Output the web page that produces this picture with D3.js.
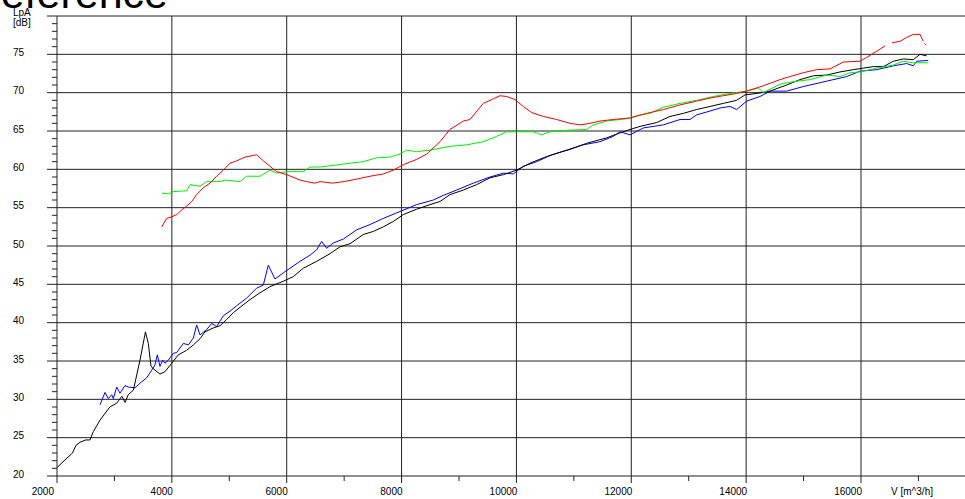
<!DOCTYPE html>
<html>
<head>
<meta charset="utf-8">
<script src="https://cdn.jsdelivr.net/npm/d3@7"></script>
<style>
  html, body { margin: 0; padding: 0; background: #fff; overflow: hidden; }
  svg { display: block; }
</style>
</head>
<body>
<svg id="chart" width="965" height="499"></svg>
<script>
// axis ticks
const xTicks = [2000, 4000, 6000, 8000, 10000, 12000, 14000, 16000];
const yTicks = [20, 25, 30, 35, 40, 45, 50, 55, 60, 65, 70, 75];

// [V m^3/h, LpA dB]
const blackSeries = [
  [2000, 21.1], [2140, 22.1], [2270, 23.0], [2330, 24.0], [2400, 24.4], [2500, 24.7],
  [2575, 24.7], [2633, 25.8], [2750, 27.3], [2920, 29.0], [3040, 29.5], [3130, 30.4],
  [3185, 29.6], [3240, 30.6], [3330, 31.2], [3445, 35.1], [3540, 38.8], [3590, 37.3],
  [3637, 34.3], [3706, 33.8], [3793, 33.3], [3880, 33.6], [3997, 34.7], [4112, 35.8],
  [4258, 36.4], [4374, 37.1], [4490, 37.9], [4577, 38.8], [4720, 39.3], [4838, 39.6],
  [4954, 40.4], [5070, 41.3], [5187, 42.0], [5360, 43.0], [5535, 43.9], [5709, 44.7],
  [5940, 45.4], [6114, 46.0], [6289, 47.1], [6521, 48.0], [6754, 49.0], [6928, 49.9],
  [7102, 50.3], [7334, 51.5], [7508, 51.9], [7682, 52.5], [7856, 53.2], [8030, 54.1],
  [8263, 54.8], [8495, 55.4], [8669, 55.8], [8843, 56.7], [9075, 57.3], [9307, 58.0],
  [9540, 58.9], [9772, 59.3], [10004, 59.9], [10237, 60.8], [10469, 61.5], [10701, 62.1],
  [10933, 62.6], [11223, 63.4], [11571, 64.1], [11745, 64.6], [11978, 65.2], [12152, 65.6],
  [12442, 66.1], [12674, 66.9], [12906, 67.3], [13138, 67.8], [13370, 68.2], [13602, 68.6],
  [13834, 69.0], [13979, 69.7], [14183, 69.9], [14415, 70.2], [14705, 71.0], [14938, 71.7],
  [15170, 72.2], [15402, 72.3], [15634, 72.7], [15866, 73.0], [16040, 73.2], [16214, 73.4],
  [16389, 73.4], [16563, 74.1], [16737, 74.4], [16911, 74.3], [17027, 75.0], [17143, 74.8]
];

const blueSeries = [
  [2750, 29.3], [2836, 30.9], [2894, 30.1], [2952, 30.6], [2981, 30.1], [3040, 31.6],
  [3097, 30.8], [3184, 31.8], [3242, 31.6], [3358, 31.5], [3445, 32.1], [3561, 32.8],
  [3649, 33.8], [3706, 34.5], [3747, 35.8], [3793, 34.3], [3840, 35.1], [3880, 34.7],
  [3938, 35.1], [4025, 36.0], [4084, 36.1], [4142, 36.7], [4200, 37.3], [4287, 37.1],
  [4374, 38.0], [4432, 39.7], [4490, 38.4], [4606, 39.1], [4693, 39.9], [4780, 39.5],
  [4896, 40.9], [5012, 41.5], [5128, 42.2], [5302, 43.2], [5476, 44.5], [5592, 44.9],
  [5679, 47.5], [5796, 45.7], [5940, 46.5], [6057, 47.1], [6231, 48.0], [6405, 48.8],
  [6521, 49.5], [6608, 50.6], [6695, 49.7], [6811, 50.4], [6985, 50.9], [7217, 52.1],
  [7450, 52.8], [7682, 53.6], [7972, 54.5], [8263, 55.4], [8553, 56.0], [8727, 56.6],
  [8959, 57.3], [9249, 58.2], [9540, 59.0], [9772, 59.5], [9946, 59.4], [10120, 60.4],
  [10353, 61.0], [10585, 61.8], [10875, 62.5], [11165, 63.2], [11455, 63.6], [11687, 64.3],
  [11803, 64.9], [11978, 64.5], [12210, 65.4], [12558, 65.8], [12848, 66.5], [13022, 66.5],
  [13138, 67.1], [13370, 67.6], [13544, 68.0], [13718, 68.2], [13834, 67.8], [14009, 68.9],
  [14241, 69.5], [14415, 70.2], [14705, 70.2], [14995, 70.8], [15402, 71.5], [15750, 72.1],
  [15983, 72.8], [16273, 73.0], [16563, 73.5], [16795, 73.8], [16911, 73.5], [16969, 74.1],
  [17172, 74.2]
];

// null = gap in the trace
const redSeries = [
  [3823, 52.5], [3910, 53.6], [3997, 53.8], [4084, 54.1], [4171, 54.7], [4258, 55.2],
  [4345, 55.8], [4432, 56.7], [4548, 57.6], [4664, 58.2], [4780, 59.1], [4896, 59.9],
  [5012, 60.8], [5128, 61.1], [5273, 61.6], [5418, 61.8], [5480, 61.9], [5592, 61.1],
  [5709, 60.4], [5825, 59.7], [6000, 59.3], [6231, 58.6], [6347, 58.4], [6492, 58.2],
  [6579, 58.4], [6800, 58.2], [7000, 58.4], [7200, 58.7], [7450, 59.1], [7682, 59.4],
  [7856, 59.9], [8030, 60.6], [8263, 61.3], [8437, 62.0], [8669, 63.6], [8843, 65.2],
  [9075, 66.3], [9191, 66.5], [9423, 68.6], [9598, 69.2], [9714, 69.6], [9830, 69.5],
  [9975, 69.1], [10120, 68.2], [10265, 67.4], [10469, 66.9], [10701, 66.5], [10933, 66.0],
  [11107, 65.8], [11281, 66.0], [11455, 66.3], [11687, 66.5], [11978, 66.7], [12268, 67.3],
  [12558, 67.8], [12848, 68.4], [13138, 68.9], [13370, 69.3], [13602, 69.6], [13834, 69.9],
  [14009, 70.2], [14299, 70.9], [14589, 71.7], [14763, 72.1], [14995, 72.6], [15228, 73.0],
  [15460, 73.1], [15692, 74.0], [15983, 74.1], [16099, 74.6], [16273, 75.4], [16418, 76.1],
  null,
  [16540, 76.5], [16679, 76.7], [16795, 77.2], [16911, 77.6], [17027, 77.6], [17085, 76.7],
  null,
  [17105, 76.4], [17135, 76.2]
];

const greenSeries = [
  [3823, 56.9], [3939, 56.8], [4025, 57.1], [4258, 57.2], [4316, 58.0], [4490, 57.8],
  [4606, 58.4], [4838, 58.4], [4925, 58.6], [5186, 58.4], [5302, 59.1], [5535, 59.1],
  [5709, 59.9], [5825, 59.5], [6000, 59.7], [6289, 59.7], [6405, 60.3], [6579, 60.3],
  [6800, 60.5], [7102, 60.8], [7334, 61.0], [7566, 61.5], [7798, 61.6], [7972, 62.0],
  [8088, 62.5], [8263, 62.3], [8495, 62.5], [8843, 63.0], [9133, 63.2], [9423, 63.6],
  [9656, 64.3], [9830, 64.9], [10004, 64.9], [10294, 64.9], [10439, 64.5], [10585, 64.9],
  [10875, 65.1], [11223, 65.2], [11339, 65.8], [11571, 66.3], [11920, 66.6], [12152, 67.1],
  [12326, 67.3], [12558, 68.1], [12848, 68.6], [13138, 69.0], [13428, 69.5], [13718, 69.9],
  [14009, 70.2], [14212, 70.6], [14299, 70.0], [14589, 71.1], [14879, 71.5], [15112, 71.7],
  [15402, 72.3], [15634, 72.1], [15808, 72.6], [15983, 72.7], [16273, 73.2], [16563, 73.6],
  [16737, 74.1], [16911, 73.9], [17172, 73.9]
];

const svg = d3.select("#chart");
const W = 965, H = 499;
const font = "'Liberation Sans Narrow', 'Arial Narrow', 'Liberation Sans', sans-serif";

const x = d3.scaleLinear().domain([2000, 16000]).range([57, 861]);
const y = d3.scaleLinear().domain([20, 80]).range([476, 16]);
const xMax = x.invert(W);

// title, mostly cut off by the top edge
svg.append("text")
  .attr("x", 168)
  .attr("y", 7.5)
  .attr("text-anchor", "end")
  .attr("font-family", "'Liberation Sans', Arial, sans-serif")
  .attr("font-size", 43)
  .attr("fill", "#000")
  .text("Reference");

const grid = svg.append("g").attr("stroke", "#222").attr("stroke-width", 1).attr("fill", "none");

// horizontal grid (incl. top border at 80)
grid.selectAll("line.h")
  .data(yTicks.concat([80]))
  .join("line")
  .attr("class", "h")
  .attr("x1", 47)
  .attr("x2", W)
  .attr("y1", (d) => y(d))
  .attr("y2", (d) => y(d));

// minor y ticks every 1 dB
grid.selectAll("line.ym")
  .data(d3.range(20, 81).filter((d) => d % 5 !== 0))
  .join("line")
  .attr("class", "ym")
  .attr("x1", 52)
  .attr("x2", 57)
  .attr("y1", (d) => y(d))
  .attr("y2", (d) => y(d));

// vertical grid
grid.selectAll("line.v")
  .data(xTicks)
  .join("line")
  .attr("class", "v")
  .attr("x1", (d) => x(d))
  .attr("x2", (d) => x(d))
  .attr("y1", y(80))
  .attr("y2", 483);

// minor x ticks every 1000
grid.selectAll("line.xm")
  .data(d3.range(3000, xMax, 2000))
  .join("line")
  .attr("class", "xm")
  .attr("x1", (d) => x(d))
  .attr("x2", (d) => x(d))
  .attr("y1", 476)
  .attr("y2", 481);

// tick labels
svg.append("g")
  .attr("font-family", font)
  .attr("font-size", 10)
  .attr("fill", "#000")
  .call((g) => {
    g.selectAll("text.yl")
      .data(yTicks)
      .join("text")
      .attr("class", "yl")
      .attr("x", 13)
      .attr("y", (d) => y(d) + 1.5)
      .text((d) => d);
    g.selectAll("text.xl")
      .data(xTicks)
      .join("text")
      .attr("class", "xl")
      .attr("text-anchor", "end")
      .attr("x", (d) => (d === 2000 ? x(d) - 3 : x(d) + 1))
      .attr("y", 495)
      .text((d) => d);
    g.append("text").attr("x", 13).attr("y", 15.5).text("LpA");
    g.append("text").attr("x", 13).attr("y", 26).text("[dB]");
    g.append("text").attr("x", 933).attr("y", 495).attr("text-anchor", "end").text("V [m^3/h]");
  });

// curves
const line = d3.line()
  .defined((d) => d !== null)
  .x((d) => x(d[0]))
  .y((d) => y(d[1]));

const series = [
  { data: blueSeries, color: "#0000ff" },
  { data: blackSeries, color: "#000000" },
  { data: greenSeries, color: "#00f000" },
  { data: redSeries, color: "#ff0000" },
];

svg.append("g")
  .attr("fill", "none")
  .attr("stroke-width", 1)
  .selectAll("path")
  .data(series)
  .join("path")
  .attr("stroke", (d) => d.color)
  .attr("d", (d) => line(d.data));
</script>
</body>
</html>
